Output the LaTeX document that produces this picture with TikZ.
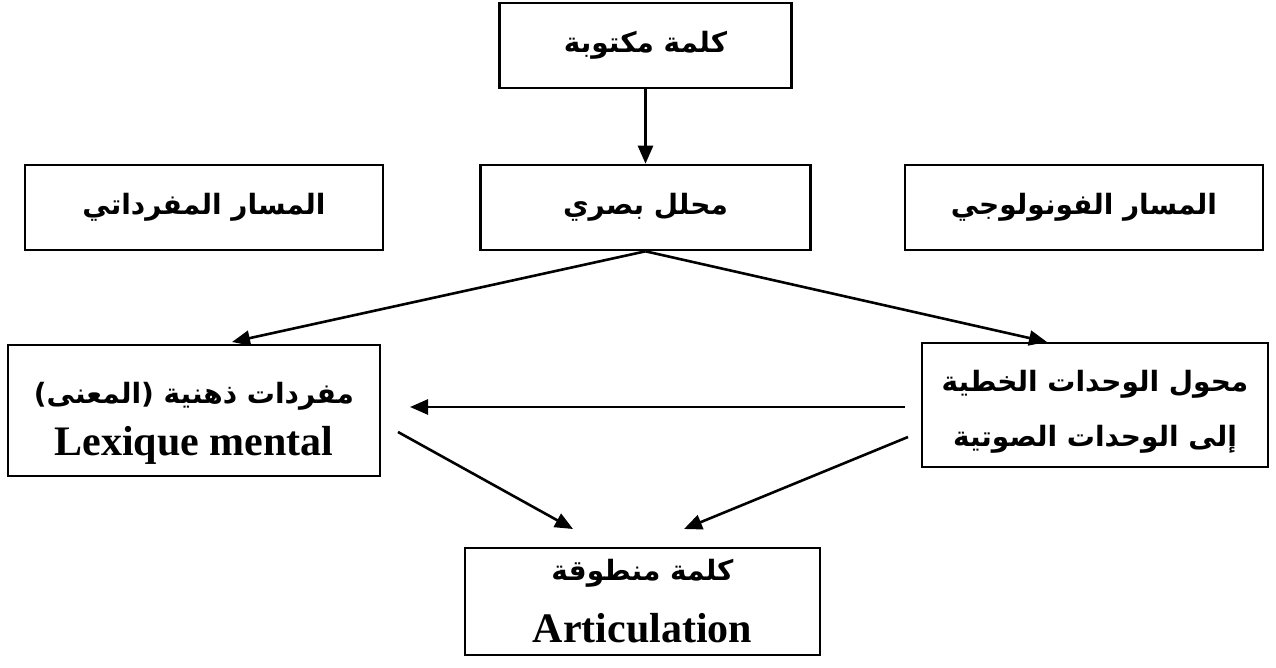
\documentclass[tikz,border=0pt]{standalone}
\usepackage{fontspec}
\setmainfont{Liberation Serif}
\newfontfamily\arabicfont[Script=Arabic]{DejaVu Sans}
\TeXXeTstate=1
\usetikzlibrary{arrows.meta}
\newcommand\artext[1]{{\arabicfont\bfseries\fontsize{28}{34}\selectfont\beginR #1\endR}}
\newcommand\latext[1]{{\bfseries\fontsize{42}{48}\selectfont #1}}
\tikzset{
  box/.style={draw=black, line width=2.6pt, fill=white, inner sep=0pt, align=center},
  link/.style={line width=2.6pt, -{Triangle[length=18pt,width=15pt]}},
}
\begin{document}
\begin{tikzpicture}[x=1pt,y=-1pt]
  \fill[white] (0,0) rectangle (1276,668);
  \useasboundingbox (0,0) rectangle (1276,668);

  % boxes
  \node[box, minimum width=292pt, minimum height=85pt] (written) at (645.5,45.5)
    {\artext{كلمة مكتوبة}};
  \node[box, minimum width=330pt, minimum height=85pt] (visual) at (645.5,207.5)
    {\artext{محلل بصري}};
  \node[box, minimum width=358pt, minimum height=85pt] (lexpath) at (204,207.5)
    {\artext{المسار المفرداتي}};
  \node[box, minimum width=358pt, minimum height=85pt] (phonpath) at (1084,207.5)
    {\artext{المسار الفونولوجي}};
  \node[box, font=\fontsize{28}{52}\selectfont, minimum width=372pt, minimum height=131pt] (lexique) at (194,410.5)
    {\rule{0pt}{46pt}\artext{مفردات ذهنية (المعنى)}\\\latext{Lexique mental}};
  \node[box, font=\fontsize{28}{55}\selectfont, minimum width=346pt, minimum height=124pt] (converter) at (1095,405)
    {\rule{0pt}{34pt}\artext{محول الوحدات الخطية}\\\artext{إلى الوحدات الصوتية}};
  \node[box, font=\fontsize{28}{62}\selectfont, minimum width=355pt, minimum height=107pt] (spoken) at (642.5,601.5)
    {\artext{كلمة منطوقة}\\\latext{Articulation}};

  % free ends of the connectors
  \coordinate (lexTip) at (232,342);
  \coordinate (convTip) at (1047,342);
  \coordinate (hStart) at (905,407);
  \coordinate (hEnd) at (410,407);
  \coordinate (lexOut) at (398,432);
  \coordinate (convOut) at (908,437);
  \coordinate (spokenL) at (573,529);
  \coordinate (spokenR) at (684,529);

  % connectors
  \draw[link] (written.south) -- (visual.north);
  \draw[link] (visual.south) -- (lexTip);
  \draw[link] (visual.south) -- (convTip);
  \draw[link] (hStart) -- (hEnd);
  \draw[link] (lexOut) -- (spokenL);
  \draw[link] (convOut) -- (spokenR);
\end{tikzpicture}
\end{document}
